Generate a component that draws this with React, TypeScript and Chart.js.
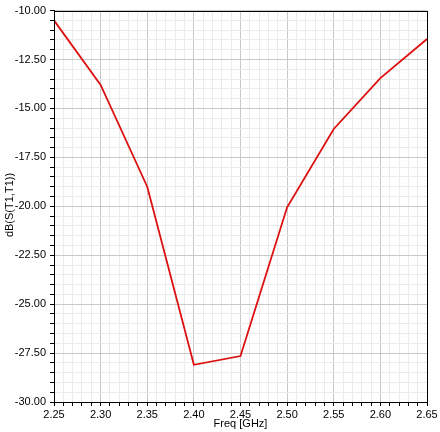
import React, { useEffect, useRef } from "react";
import { Chart, registerables } from "chart.js";

Chart.register(...registerables);

const freqs = [2.25, 2.3, 2.35, 2.4, 2.45, 2.5, 2.55, 2.6, 2.65];
const s11 = [-10.5, -13.8, -19.0, -28.1, -27.65, -20.05, -16.05, -13.45, -11.45];
const xTitle = "Freq [GHz]";
const yTitle = "dB(S(T1,T1))";

const FONT = "Arial, 'Liberation Sans', sans-serif";

const framePlugin = {
  id: "frame",
  afterDraw(chart: any) {
    const { ctx, chartArea: a } = chart;
    ctx.save();
    ctx.strokeStyle = "#000";
    ctx.lineWidth = 1;
    ctx.strokeRect(Math.round(a.left) + 0.5, Math.round(a.top) + 0.5, Math.round(a.right - a.left), Math.round(a.bottom - a.top));
    ctx.fillStyle = "#000";
    ctx.font = `11px ${FONT}`;
    ctx.textAlign = "center";
    ctx.textBaseline = "middle";
    ctx.fillText(xTitle, (a.left + a.right) / 2, 424);
    ctx.translate(10, 205);
    ctx.rotate(-Math.PI / 2);
    ctx.fillText(yTitle, 0, 0);
    ctx.restore();
  },
};

export default function App() {
  const ref = useRef<HTMLCanvasElement>(null);
  useEffect(() => {
    const chart = new Chart(ref.current!, {
      type: "line",
      data: {
        datasets: [
          {
            data: freqs.map((f, i) => ({ x: f, y: s11[i] })),
            borderColor: "#dd1010",
            borderWidth: 1.8,
            pointRadius: 0,
            tension: 0,
          },
        ],
      },
      options: {
        animation: false,
        responsive: false,
        maintainAspectRatio: false,
        layout: { padding: { top: 9, right: 13, left: 0, bottom: 0 } },
        plugins: { legend: { display: false }, tooltip: { enabled: false } },
        scales: {
          x: {
            type: "linear",
            min: 2.25,
            max: 2.65,
            afterFit(s: any) { s.height = 30; },
            ticks: {
              stepSize: 0.01,
              autoSkip: false,
              maxRotation: 0,
              padding: 2,
              color: "#000",
              font: { family: FONT, size: 11 },
              callback: (v: any) => {
                const n = Math.round(Number(v) * 100);
                return n % 5 === 0 ? (n / 100).toFixed(2) : "";
              },
            },
            grid: {
              color: (c: any) => {
                const n = Math.round(c.tick.value * 100);
                return n % 5 === 0 ? "#c8c8c8" : "#ebebeb";
              },
              tickColor: "#000",
              tickLength: 4,
              drawTicks: true,
            },
            border: { display: true, color: "#000" },
          },
          y: {
            type: "linear",
            min: -30,
            max: -10,
            afterFit(s: any) { s.width = 54; },
            ticks: {
              stepSize: 0.5,
              autoSkip: false,
              padding: 4,
              color: "#000",
              font: { family: FONT, size: 11 },
              callback: (v: any) => {
                const n = Math.round(Number(v) * 10);
                return n % 25 === 0 ? Number(v).toFixed(2) : "";
              },
            },
            grid: {
              color: (c: any) => {
                const n = Math.round(c.tick.value * 10);
                return n % 25 === 0 ? "#c8c8c8" : "#ebebeb";
              },
              tickColor: "#000",
              tickLength: 4,
            },
            border: { display: true, color: "#000" },
          },
        },
      },
      plugins: [framePlugin],
    });
    return () => chart.destroy();
  }, []);
  return (
    <div style={{ position: "fixed", left: 0, top: 0, width: 440, height: 432, background: "#fff" }}>
      <canvas ref={ref} width={440} height={432} style={{ width: 440, height: 432 }} />
    </div>
  );
}
